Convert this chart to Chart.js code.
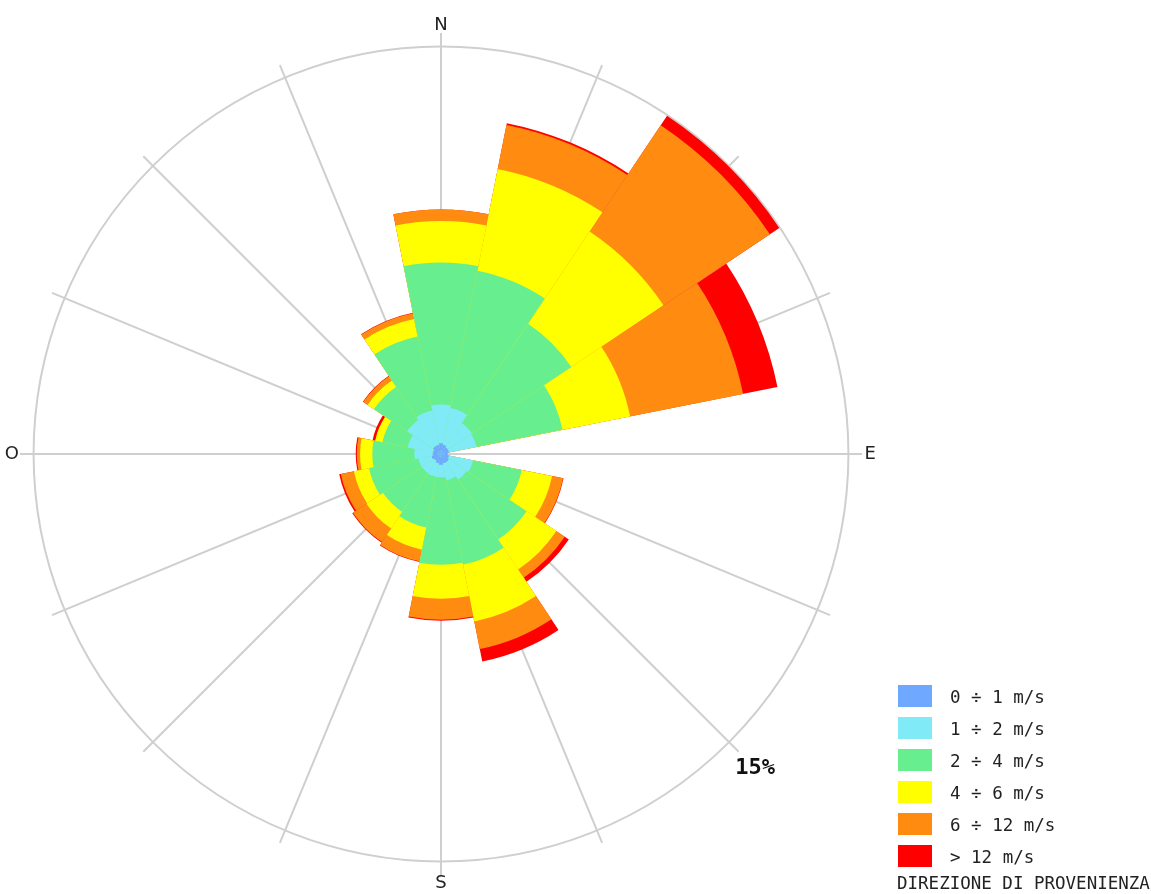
<!DOCTYPE html>
<html>
<head>
<meta charset="utf-8">
<script src="https://cdn.jsdelivr.net/npm/chart.js@4.4.0/dist/chart.umd.min.js"></script>
<style>
    body { margin: 0; background: #fff; }
    #wrap { position: relative; width: 1151px; height: 894px; }
    #rose { position: absolute; left: 0; top: 0; }
    #legend { position: absolute; left: 898px; top: 685px; font: 17.5px "DejaVu Sans Mono", monospace; color: #222; }
    #legend .row { position: relative; height: 32px; }
    #legend .box { position: absolute; left: 0; top: 0; width: 34px; height: 22px; }
    #legend .txt { position: absolute; left: 52px; top: 0; line-height: 24px; white-space: pre; }
    #caption { position: absolute; left: 897px; top: 873px; font: 17.5px "DejaVu Sans Mono", monospace; color: #222; white-space: pre; }
</style>
</head>
<body>
<div id="wrap">
    <canvas id="rose" width="1151" height="894"></canvas>
    <div id="legend"></div>
    <div id="caption">DIREZIONE DI PROVENIENZA</div>
</div>
<script>
// directions, clockwise from north (O = ovest)
const directions = ['N', 'NNE', 'NE', 'ENE', 'E', 'ESE', 'SE', 'SSE', 'S', 'SSO', 'SO', 'OSO', 'O', 'ONO', 'NO', 'NNO'];

// frequency (%) per speed class
const speed0to1  = [0.40, 0.35, 0.30, 0.30, 0.25, 0.30, 0.35, 0.35, 0.40, 0.35, 0.30, 0.35, 0.30, 0.30, 0.35, 0.35];
const speed1to2  = [1.42, 1.38, 1.07, 1.03, 0.00, 0.90, 0.78, 0.64, 0.46, 0.51, 0.55, 0.50, 0.68, 0.95, 1.15, 1.28];
const speed2to4  = [5.23, 5.15, 4.40, 3.23, 0.00, 1.83, 2.66, 3.16, 3.22, 1.90, 1.72, 1.85, 1.55, 0.95, 1.47, 2.78];
const speed4to6  = [1.53, 3.82, 4.08, 2.54, 0.00, 1.14, 1.32, 2.14, 1.25, 0.83, 0.73, 0.57, 0.45, 0.27, 0.28, 0.66];
const speed6to12 = [0.42, 1.65, 4.71, 4.24, 0.00, 0.41, 0.37, 1.03, 0.77, 0.44, 0.60, 0.49, 0.12, 0.00, 0.19, 0.21];
const speedOver12 = [0.00, 0.07, 0.42, 1.29, 0.00, 0.02, 0.18, 0.47, 0.04, 0.02, 0.03, 0.06, 0.04, 0.10, 0.02, 0.02];

const speedClasses = ['0 ÷ 1 m/s', '1 ÷ 2 m/s', '2 ÷ 4 m/s', '4 ÷ 6 m/s', '6 ÷ 12 m/s', '> 12 m/s'];
const classColors = ['#6fa8ff', '#80eaf6', '#66ee8f', '#ffff00', '#ff8c10', '#ff0000'];

const compassLabels = { 0: 'N', 4: 'E', 8: 'S', 12: 'O' };
const ringLabel = '15%';
const ringValue = 15;
const scaleMax = 15.5;

const series = [speed0to1, speed1to2, speed2to4, speed4to6, speed6to12, speedOver12];

// polar area has no stacking, so draw cumulative totals on top of each other
let running = directions.map(() => 0);
const datasets = series.map((values, k) => {
    running = running.map((v, i) => v + values[i]);
    return {
        label: speedClasses[k],
        data: running.slice(),
        backgroundColor: classColors[k],
        borderWidth: 0
    };
});

// html legend
const legend = document.getElementById('legend');
speedClasses.forEach((name, k) => {
    const row = document.createElement('div');
    row.className = 'row';
    row.innerHTML = '<div class="box" style="background:' + classColors[k] + '"></div><div class="txt"></div>';
    row.querySelector('.txt').textContent = name;
    legend.appendChild(row);
});

const compassText = {
    id: 'compassText',
    afterDraw(chart) {
        const s = chart.scales.grid;
        const ctx = chart.ctx;
        ctx.save();
        ctx.fillStyle = '#222';
        ctx.textAlign = 'center';
        ctx.textBaseline = 'middle';
        ctx.font = '18px "DejaVu Sans"';
        for (const [i, t] of Object.entries(compassLabels)) {
            const p = s.getPointPositionForValue(+i, 15.8);
            ctx.fillText(t, p.x, p.y);
        }
        ctx.fillStyle = '#111';
        ctx.font = 'bold 22px "DejaVu Sans Mono"';
        const p = s.getPointPositionForValue(6, 16.35);
        ctx.fillText(ringLabel, p.x, p.y);
        ctx.restore();
    }
};

new Chart(document.getElementById('rose'), {
    type: 'polarArea',
    data: {
        labels: directions,
        datasets: datasets
    },
    options: {
        responsive: false,
        animation: false,
        layout: {
            padding: { left: 20, right: 288, top: 33, bottom: 18 }
        },
        plugins: {
            legend: { display: false },
            tooltip: { enabled: false }
        },
        scales: {
            r: {
                type: 'radialLinear',
                min: 0,
                max: scaleMax,
                startAngle: -11.25,
                ticks: { display: false },
                grid: { display: false },
                angleLines: { display: false },
                pointLabels: { display: false }
            },
            grid: {
                type: 'radialLinear',
                axis: 'r',
                min: 0,
                max: scaleMax,
                startAngle: 0,
                ticks: { display: false, stepSize: ringValue },
                grid: {
                    circular: true,
                    lineWidth: 2,
                    color: ctx => ctx.tick && ctx.tick.value === ringValue ? '#cfcfcf' : 'rgba(0,0,0,0)'
                },
                angleLines: { display: true, color: '#cfcfcf', lineWidth: 2 },
                pointLabels: { display: false }
            }
        }
    },
    plugins: [compassText]
});
</script>
</body>
</html>
